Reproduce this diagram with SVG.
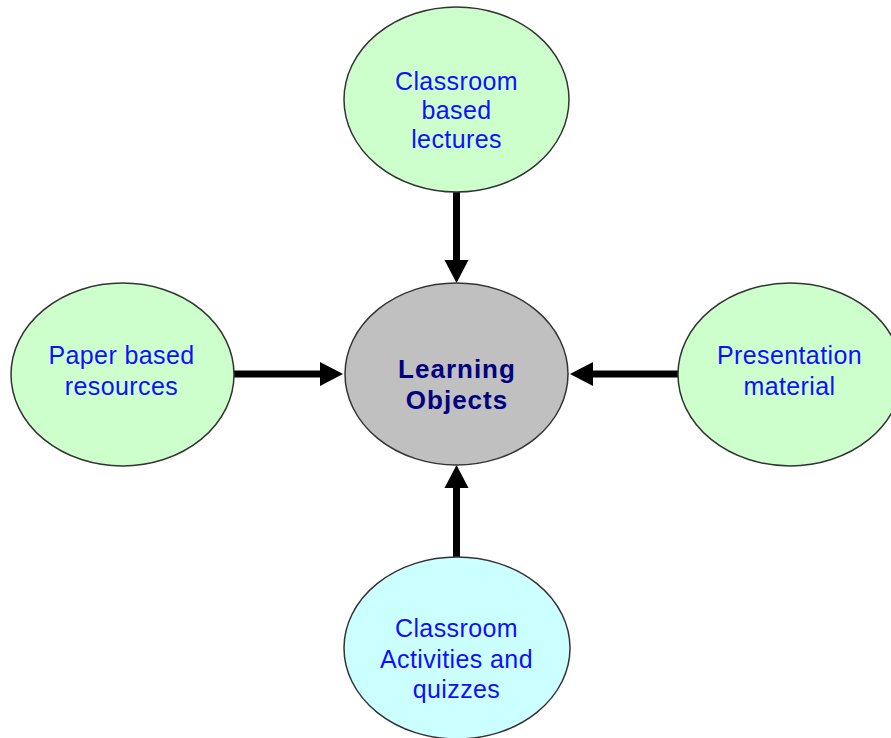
<svg xmlns="http://www.w3.org/2000/svg" width="891" height="738" viewBox="0 0 891 738">
<style>
.node ellipse{stroke:#333;stroke-width:1.5}
.green{fill:#ccffcc}
.cyan{fill:#ccffff}
.grey{fill:#c0c0c0}
.lbl{font-family:"Liberation Sans",Arial,sans-serif;font-size:25px;fill:#1010ff;text-anchor:middle;letter-spacing:0.4px}
.center{font-family:"Liberation Sans",Arial,sans-serif;font-size:26px;font-weight:bold;fill:#000080;text-anchor:middle;letter-spacing:1px}
.conn{stroke:#000;stroke-width:7;fill:none;marker-end:url(#ah)}
</style>
<defs>
<marker id="ah" markerUnits="userSpaceOnUse" markerWidth="26" markerHeight="26" refX="0" refY="0" orient="auto" overflow="visible">
<path d="M0,-12 L23,0 L0,12 z" fill="#000"/>
</marker>
</defs>
<rect width="891" height="738" fill="#fff"/>
<g id="connectors">
<path class="conn" d="M456.5,192 L456.5,260"/>
<path class="conn" d="M234,374 L320,374"/>
<path class="conn" d="M678,374 L593,374"/>
<path class="conn" d="M456.5,557 L456.5,488"/>
</g>
<g id="node-lectures" class="node">
<ellipse class="green" cx="456.5" cy="99.5" rx="112.5" ry="92.5"/>
<text class="lbl" x="456.5" y="90">Classroom</text>
<text class="lbl" x="456.5" y="119">based</text>
<text class="lbl" x="456.5" y="148">lectures</text>
</g>
<g id="node-center" class="node">
<ellipse class="grey" cx="456.5" cy="374" rx="111.5" ry="91"/>
<text class="center" x="457" y="378">Learning</text>
<text class="center" x="457" y="409">Objects</text>
</g>
<g id="node-paper" class="node">
<ellipse class="green" cx="122.5" cy="374.5" rx="111.5" ry="91.5"/>
<text class="lbl" x="121.5" y="364">Paper based</text>
<text class="lbl" x="121.5" y="395">resources</text>
</g>
<g id="node-presentation" class="node">
<ellipse class="green" cx="790" cy="374.5" rx="112" ry="91.5"/>
<text class="lbl" x="789.5" y="364">Presentation</text>
<text class="lbl" x="789.5" y="395">material</text>
</g>
<g id="node-activities" class="node">
<ellipse class="cyan" cx="457" cy="648" rx="113" ry="91"/>
<text class="lbl" x="456.5" y="637">Classroom</text>
<text class="lbl" x="456.5" y="668">Activities and</text>
<text class="lbl" x="456.5" y="698">quizzes</text>
</g>
</svg>
